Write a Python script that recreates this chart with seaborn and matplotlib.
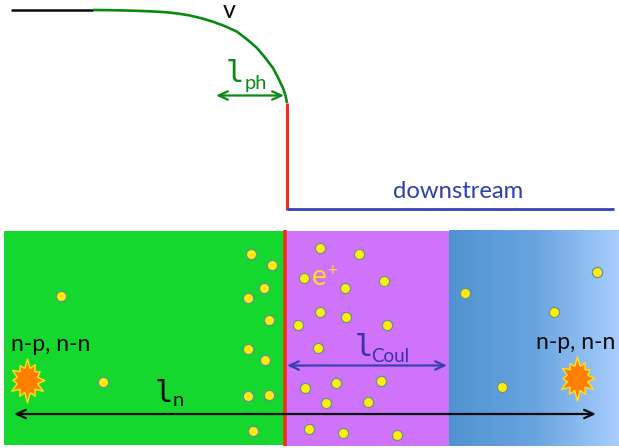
import numpy as np
import pandas as pd
import seaborn as sns
import matplotlib
matplotlib.use("Agg")
import matplotlib.pyplot as plt
from matplotlib.colors import LinearSegmentedColormap
from matplotlib.patches import Rectangle
from matplotlib.path import Path

sns.set_theme(style="white")
plt.rcParams['font.family'] = ['Lato', 'DejaVu Sans']

# velocity profile
upstream_x = [11, 93]
upstream_y = [10, 10]
curve_x = [93, 113, 133, 150, 167, 179, 190, 202, 213, 225, 237, 247, 257, 265, 273, 278, 283, 285.5, 287]
curve_y = [10, 10.2, 10.7, 11.3, 12.3, 13.7, 15.5, 18.4, 21.7, 26.2, 31.7, 39.4, 48, 57.5, 68, 77.5, 88, 95.5, 103]
shock_x = [287, 287]
shock_y = [103, 210]
down_x = [287, 614]
down_y = [209, 209]

# positrons
dots_x = [251, 272, 264, 248, 269, 248, 265, 248, 269, 253, 61, 103,
          304, 298, 305, 309, 320, 359, 384, 345, 320, 346, 387, 318, 336, 381, 326, 368, 343, 397,
          465, 554, 597, 502]
dots_y = [254, 265, 288, 298, 320, 349, 360, 396, 395, 431, 296, 382,
          278, 325, 388, 429, 248, 254, 281, 288, 312, 317, 325, 348, 383, 381, 403, 402, 433, 435,
          293, 312, 272, 387]
burst_x = [27, 577]
burst_y = [380, 378]

fig = plt.figure(figsize=(6.19, 4.48), dpi=100)
ax = fig.add_axes([0, 0, 1, 1])
ax.set_xlim(0, 619)
ax.set_ylim(448, 0)
ax.axis("off")

ax.add_patch(Rectangle((4, 231.5), 280, 214, fc="#14d82e", ec="none", zorder=1))
ax.add_patch(Rectangle((285, 231.5), 164, 214.5, fc="#cf73fb", ec="none", zorder=1))
cmap = LinearSegmentedColormap.from_list("b", ["#4f93d0", "#68a4e0", "#a8cdfd"])
ax.imshow(np.linspace(0, 1, 256).reshape(1, -1), extent=(449, 619, 446, 230.5), cmap=cmap,
          aspect="auto", zorder=1)
ax.set_xlim(0, 619)
ax.set_ylim(448, 0)

def line(x, y, color, lw):
    sns.lineplot(x=np.array(x), y=np.array(y), sort=False, estimator=None, color=color, lw=lw,
                 ax=ax, zorder=3, solid_capstyle="butt", legend=False)

line(upstream_x, upstream_y, "#0a0a0a", 1.8)
line(curve_x, curve_y, "#0a8a12", 1.9)
line(shock_x, shock_y, "#f3300f", 2.2)
line(down_x, down_y, "#3a3fb5", 2.0)

ax.plot([284.5, 284.5], [230, 446], color="#f3300f", lw=2.6, zorder=3, solid_capstyle="butt")

df = pd.DataFrame({"x": dots_x, "y": dots_y})
sns.scatterplot(data=df, x="x", y="y", s=54, color="#ffee00", edgecolor="#6a8ea0", linewidth=0.9,
                ax=ax, zorder=5, legend=False)

# irregular spiky burst shape
radii = [1.0, .58, .85, .58, .8, .58, .95, .58, 1.0, .58, .85, .58, 1.05, .58, .85, .58, 1.0, .58, .8, .58, .95, .58, .8, .58]
ang = np.pi / 2 - np.arange(len(radii)) * 2 * np.pi / len(radii)
verts = np.c_[np.array(radii) * np.cos(ang) * 0.85, np.array(radii) * np.sin(ang)]
burst = Path(np.vstack([verts, verts[:1]]), closed=True)
sns.scatterplot(x=burst_x, y=burst_y, s=1050, marker=burst, color="#ff7f00", edgecolor="#ffe21a",
                linewidth=1.0, ax=ax, zorder=5, legend=False)
ax.set_xlabel("")
ax.set_ylabel("")

def arrow(x0, x1, y, color, lw=1.6):
    ax.annotate("", xy=(x1, y), xytext=(x0, y), zorder=6,
                arrowprops=dict(arrowstyle="<->,head_length=0.55,head_width=0.25", color=color, lw=lw,
                                shrinkA=0, shrinkB=0))

arrow(216, 284, 95.5, "#0a8a12")
arrow(287, 447, 365.5, "#3a3fb5")
arrow(14, 596, 414, "#0a0a0a")

mono = "DejaVu Sans Mono"
ax.text(229.5, 11, "v", fontsize=18, color="#0a0a0a", ha="center", va="center", zorder=7)
ax.text(235, 74, "l", fontsize=22, family=mono, color="#0a8a12", ha="center", va="center", zorder=7)
ax.text(245, 89, "ph", fontsize=14.5, color="#0a8a12", ha="left", va="baseline", zorder=7)
ax.text(393, 198, "downstream", fontsize=17.2, color="#2f3fb0", ha="left", va="baseline", zorder=7)
ax.text(319.5, 285, "e", fontsize=20, color="#ffdd22", ha="center", va="baseline", zorder=7)
ax.text(332, 276, "+", fontsize=12, color="#ffdd22", ha="center", va="baseline", zorder=7)
ax.text(11, 351, "n-p, n-n", fontsize=16.6, color="#0a0a0a", ha="left", va="baseline", zorder=7)
ax.text(536, 349, "n-p, n-n", fontsize=16.6, color="#0a0a0a", ha="left", va="baseline", zorder=7)
ax.text(364, 347, "l", fontsize=22, family=mono, color="#3a2fb0", ha="center", va="center", zorder=7)
ax.text(371, 362, "Coul", fontsize=13.5, color="#3a2fb0", ha="left", va="baseline", zorder=7)
ax.text(164, 393, "l", fontsize=22, family=mono, color="#0a0a0a", ha="center", va="center", zorder=7)
ax.text(173, 406, "n", fontsize=14.5, color="#0a0a0a", ha="left", va="baseline", zorder=7)

fig.savefig("out.png", dpi=100)
